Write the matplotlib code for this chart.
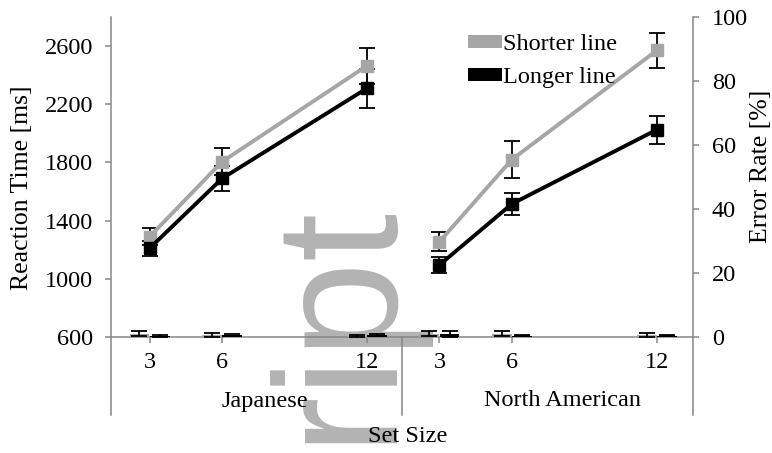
import numpy as np
import matplotlib
matplotlib.use('Agg')
import matplotlib.pyplot as plt
from matplotlib.patches import Patch
from matplotlib.lines import Line2D

plt.rcParams['font.family'] = ['Liberation Serif', 'DejaVu Serif']

# set sizes and groups
set_sizes = [3, 6, 12]
groups = ['Japanese', 'North American']
group_offset = [0, 12]   # North American block sits 12 units to the right

# reaction time [ms] (mean, error)
rt_short_jp = [1290, 1805, 2465]
rt_short_jp_err = [57, 92, 124]
rt_long_jp = [1210, 1690, 2310]
rt_long_jp_err = [53, 85, 133]
rt_short_na = [1255, 1820, 2570]
rt_short_na_err = [65, 130, 120]
rt_long_na = [1095, 1515, 2025]
rt_long_na_err = [55, 75, 95]

# error rate [%] (mean, error)
er_short_jp = [1.0, 0.5, 0.4]
er_short_jp_err = [0.8, 0.6, 0.3]
er_long_jp = [0.3, 0.5, 0.6]
er_long_jp_err = [0.2, 0.3, 0.4]
er_short_na = [1.0, 1.0, 0.7]
er_short_na_err = [0.8, 0.8, 0.6]
er_long_na = [0.8, 0.4, 0.4]
er_long_na_err = [1.0, 0.2, 0.2]

GRAY = '#a6a6a6'
AXC = '#868686'
FS = 17.5

W, H = 772, 453
fig = plt.figure(figsize=(W / 100, H / 100), dpi=100)

# watermark behind everything
fig.text(384 / W, 1 - 198 / H, 'Manuscript', family='Liberation Sans', fontsize=125,
         color='#b3b3b3', rotation=90, rotation_mode='anchor', ha='right', va='baseline',
         zorder=-1)

ax = fig.add_axes([111 / W, 1 - 337 / H, 582 / W, 320 / H])
ax.patch.set_visible(False)
ax2 = ax.twinx()
ax2.patch.set_visible(False)

rt = [(rt_short_jp, rt_short_jp_err, rt_long_jp, rt_long_jp_err),
      (rt_short_na, rt_short_na_err, rt_long_na, rt_long_na_err)]
er = [(er_short_jp, er_short_jp_err, er_long_jp, er_long_jp_err),
      (er_short_na, er_short_na_err, er_long_na, er_long_na_err)]

ekw = dict(fmt='none', ecolor='black', elinewidth=1.3, capsize=5.5, capthick=1.3, zorder=2)
bkw = dict(elinewidth=1.3, capsize=5.5, capthick=1.3)
for k in range(2):
    x = np.array(set_sizes) + group_offset[k]
    s, se, l, le = rt[k]
    ax.errorbar(x, s, yerr=se, **ekw)
    ax.errorbar(x, l, yerr=le, **ekw)
    ax.plot(x, s, color=GRAY, lw=2.8, marker='s', ms=8.5, zorder=3)
    ax.plot(x, l, color='black', lw=2.8, marker='s', ms=8.5, zorder=4)
    s, se, l, le = er[k]
    ax2.bar(x - 0.42, s, width=0.82, color=GRAY, yerr=se, error_kw=bkw)
    ax2.bar(x + 0.42, l, width=0.82, color='black', yerr=le, error_kw=bkw)

ax.set_xlim(1.4, 25.5)
ax.set_ylim(600, 2800)
ax.set_yticks(np.arange(600, 2601, 400))
ax2.set_ylim(0, 100)
ax2.set_yticks(np.arange(0, 101, 20))

xt = [s + o for o in group_offset for s in set_sizes]
ax.set_xticks(xt)
ax.set_xticklabels([str(s) for o in group_offset for s in set_sizes])

for a in (ax, ax2):
    for sp in a.spines.values():
        sp.set_color(AXC)
        sp.set_linewidth(1.1)
    a.spines['top'].set_visible(False)
ax.spines['right'].set_visible(False)
ax2.spines['left'].set_visible(False)
ax2.spines['bottom'].set_visible(False)

ax.tick_params(axis='x', length=4, width=1.1, color=AXC, labelsize=FS, pad=7)
ax.tick_params(axis='y', length=4.5, width=1.1, color=AXC, labelsize=FS, pad=8.5)
ax2.tick_params(axis='y', length=4.5, width=1.1, color=AXC, labelsize=FS, pad=9)

# category separators below the axis
sep = (13.45 - 1.4) / (25.5 - 1.4)
for xs in (0, sep, 1):
    ax.add_line(Line2D([xs, xs], [0, -78 / 320], transform=ax.transAxes,
                       color=AXC, lw=1.1, clip_on=False))

fig.text(265 / W, 1 - 401 / H, groups[0], ha='center', va='center', fontsize=FS)
fig.text(563 / W, 1 - 401 / H, groups[1], ha='center', va='center', fontsize=FS)
fig.text(408 / W, 1 - 437 / H, 'Set Size', ha='center', va='center', fontsize=FS)
fig.text(22 / W, 1 - 188 / H, 'Reaction Time [ms]', rotation=90, ha='center', va='center',
         fontsize=18.5)
fig.text(761 / W, 1 - 166 / H, 'Error Rate [%]', rotation=90, ha='center', va='center',
         fontsize=18.5)

handles = [Patch(facecolor=GRAY), Patch(facecolor='black')]
ax.legend(handles, ['Shorter line', 'Longer line'], loc='upper left',
          bbox_to_anchor=(468 / W, 1 - 34 / H), bbox_transform=fig.transFigure,
          frameon=False, borderpad=0, borderaxespad=0, fontsize=FS,
          handlelength=1.4, handleheight=0.45, handletextpad=0.05, labelspacing=0.5)

fig.savefig('out.png', dpi=100)
